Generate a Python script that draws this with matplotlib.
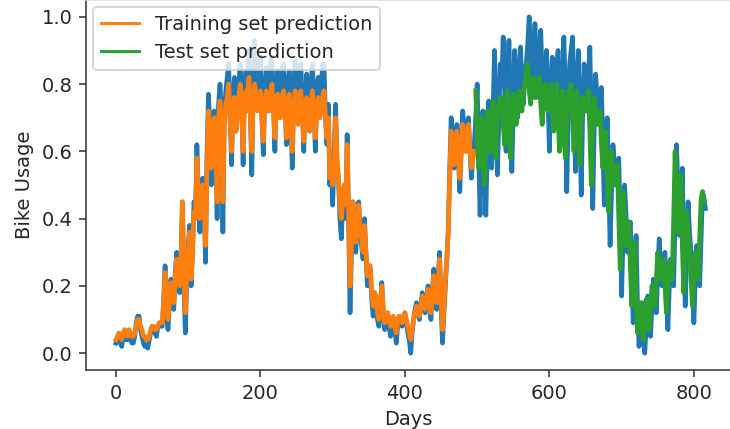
import numpy as np
import matplotlib
matplotlib.use("Agg")
import matplotlib.pyplot as plt

STEP = 2  # days between stored samples

actual = [
    .03,.04,.05,.03,.02,.05,.06,.04,.04,.06,.05,.03,.03,.05,.09,.11,.11,.07,.05,.03,.02,.02,.015,.04,.06,.08,.07,.06,.05,.08,.09,.08,
    .08,.16,.26,.12,.07,.15,.22,.18,.13,.24,.30,.22,.18,.28,.45,.20,.06,.22,.32,.38,.20,.30,.45,.40,.62,.48,.36,.50,.52,.44,.27,.60,
    .77,.68,.50,.70,.72,.62,.40,.74,.80,.70,.36,.72,.78,.82,.86,.70,.56,.76,.82,.66,.72,.80,.86,.74,.56,.80,.84,.76,.90,.72,.53,.80,
    .93,.80,.74,.86,.88,.70,.59,.78,.85,.72,.78,.86,.88,.74,.60,.80,.84,.70,.72,.85,.86,.76,.62,.80,.84,.72,.55,.78,.87,.74,.70,.84,
    .86,.72,.60,.76,.83,.70,.66,.80,.86,.74,.60,.78,.82,.70,.78,.86,.86,.70,.62,.74,.50,.58,.44,.60,.74,.56,.52,.40,.34,.46,.50,.40,
    .65,.40,.12,.30,.45,.38,.30,.40,.45,.36,.32,.28,.40,.30,.20,.26,.25,.16,.11,.18,.16,.10,.08,.14,.21,.12,.07,.10,.12,.08,.05,.09,
    .10,.07,.03,.08,.11,.09,.08,.11,.12,.09,.06,.04,.00,.06,.10,.13,.15,.12,.10,.14,.18,.15,.12,.16,.20,.14,.10,.18,.25,.20,.13,.22,
    .30,.14,.03,.12,.20,.28,.37,.55,.70,.62,.55,.64,.68,.58,.48,.62,.72,.66,.60,.68,.70,.60,.52,.58,.62,.70,.80,.60,.41,.58,.72,.55,
    .41,.60,.75,.66,.55,.72,.90,.74,.53,.70,.86,.80,.94,.78,.60,.82,.93,.76,.54,.72,.90,.80,.70,.84,.91,.80,.74,.84,.86,.92,1.0,.88,
    .76,.88,.98,.84,.80,.90,.96,.82,.74,.80,.90,.76,.60,.78,.88,.80,.72,.84,.90,.74,.62,.80,.94,.78,.48,.70,.86,.90,.94,.76,.54,.78,
    .90,.72,.47,.70,.86,.78,.72,.82,.91,.70,.43,.66,.83,.76,.70,.76,.79,.62,.44,.60,.70,.52,.32,.48,.62,.56,.50,.54,.58,.40,.17,.36,
    .50,.42,.30,.36,.39,.24,.09,.20,.35,.14,.02,.06,.15,.04,.00,.08,.17,.10,.05,.14,.22,.18,.12,.24,.34,.26,.20,.28,.30,.16,.07,.20,
    .28,.24,.20,.40,.62,.48,.35,.44,.55,.30,.14,.30,.45,.36,.30,.20,.09,.22,.32,.26,.20,.34,.48,.46,.43,
]

train_pred = [
    .04,.05,.06,.05,.04,.06,.07,.06,.05,.07,.06,.05,.05,.06,.08,.10,.10,.08,.07,.05,.05,.04,.04,.05,.07,.08,.08,.07,.07,.08,.09,.09,
    .09,.15,.24,.14,.10,.15,.21,.18,.15,.22,.28,.22,.20,.28,.45,.24,.12,.24,.30,.36,.22,.30,.42,.40,.58,.48,.40,.48,.50,.45,.32,.56,
    .72,.66,.55,.66,.70,.62,.45,.70,.75,.68,.45,.68,.74,.76,.80,.70,.60,.72,.76,.66,.70,.76,.80,.72,.60,.76,.78,.72,.82,.70,.60,.74,
    .80,.76,.72,.76,.78,.70,.63,.74,.78,.72,.72,.76,.80,.72,.64,.74,.77,.70,.70,.76,.78,.72,.64,.74,.77,.70,.60,.72,.78,.72,.68,.76,
    .78,.70,.63,.72,.76,.70,.66,.74,.78,.72,.64,.72,.76,.70,.72,.76,.78,.70,.64,.70,.52,.56,.50,.56,.70,.58,.52,.44,.40,.46,.50,.44,
    .62,.42,.20,.32,.45,.38,.33,.38,.44,.36,.34,.30,.38,.30,.23,.26,.26,.18,.14,.18,.17,.12,.10,.14,.20,.13,.09,.11,.12,.10,.08,.10,
    .11,.08,.06,.09,.11,.10,.09,.11,.12,.10,.08,.06,.04,.07,.10,.12,.14,.12,.11,.14,.17,.15,.13,.16,.19,.15,.12,.18,.23,.20,.15,.21,
    .28,.16,.07,.13,.22,.28,.36,.52,.66,.61,.56,.62,.66,.58,.52,.60,.68,.64,.60,.66,.68,.60,.55,.58,.60,
]

test_pred = [
    .78,.66,.55,.62,.70,.60,.50,.62,.72,.66,.60,.70,.75,.64,.58,.70,.74,.76,.76,.68,.62,.72,.78,.66,.58,.70,.77,.72,.68,.74,.78,.72,
    .72,.78,.80,.84,.86,.78,.74,.80,.82,.76,.76,.80,.82,.74,.68,.76,.80,.74,.72,.78,.80,.72,.66,.74,.80,.70,.60,.72,.78,.66,.58,.70,
    .78,.76,.80,.70,.60,.72,.78,.68,.56,.70,.76,.72,.72,.76,.78,.66,.50,.68,.76,.70,.68,.72,.72,.62,.55,.62,.66,.54,.42,.52,.60,.54,
    .50,.54,.56,.40,.25,.38,.48,.40,.32,.36,.39,.26,.14,.24,.33,.18,.06,.10,.15,.08,.04,.10,.16,.12,.07,.14,.20,.16,.14,.22,.30,.26,
    .22,.26,.28,.20,.12,.20,.27,.24,.22,.40,.60,.46,.36,.44,.53,.32,.18,.30,.42,.36,.30,.22,.14,.22,.30,.26,.22,.34,.46,.48,.45,
]

x_actual = np.arange(len(actual)) * STEP
x_train = np.arange(len(train_pred)) * STEP
x_test = (np.arange(len(test_pred)) + len(train_pred)) * STEP

W, H, DPI = 730, 429, 140
fig = plt.figure(figsize=(W / DPI, H / DPI), dpi=DPI)
ax = fig.add_axes([86 / W, (H - 370) / H, (730 - 86) / W, 370 / H])

LW = 2.4
ax.plot(x_actual, actual, color="#1f77b4", lw=LW)
ax.plot(x_train, train_pred, color="#ff7f0e", lw=LW)
ax.plot(x_test, test_pred, color="#2ca02c", lw=LW)
# legend handles drawn with the default thinner line
ax.plot([], [], color="#ff7f0e", lw=1.5, label="Training set prediction")
ax.plot([], [], color="#2ca02c", lw=1.5, label="Test set prediction")

ax.set_xlim(-41.5, 850)
ax.set_ylim(-0.05, 1.05)
ax.set_xticks([0, 200, 400, 600, 800])
ax.set_yticks([0.0, 0.2, 0.4, 0.6, 0.8, 1.0])
ax.spines["right"].set_visible(False)
ax.spines["top"].set_color("#dddddd")
for s in ("left", "bottom"):
    ax.spines[s].set_color("#333333")
ax.tick_params(colors="#333333", labelcolor="#262626")
ax.set_xlabel("Days", color="#262626")
ax.set_ylabel("Bike Usage", color="#262626")
leg = ax.legend(loc="upper left", borderaxespad=0.35)
for t in leg.get_texts():
    t.set_color("#262626")

fig.savefig("out.png", dpi=DPI)
